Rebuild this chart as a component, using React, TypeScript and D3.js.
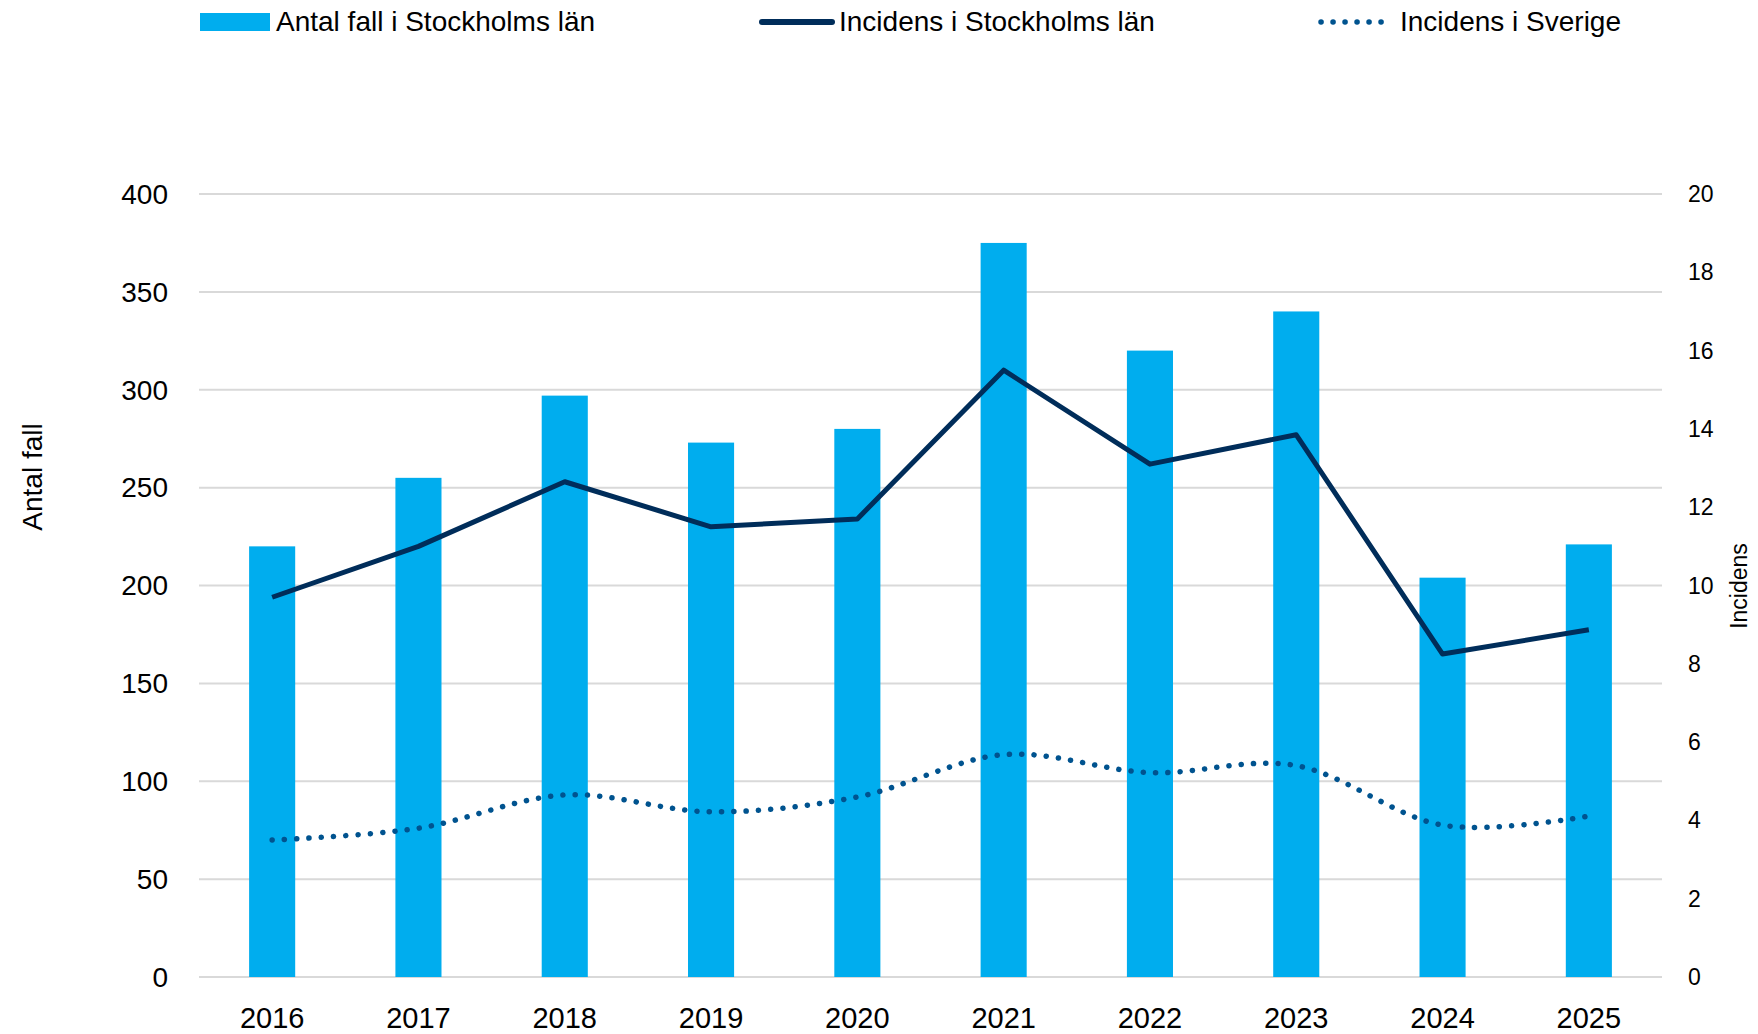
import React from 'react';
import * as d3 from 'd3';

// data
const years = ['2016', '2017', '2018', '2019', '2020', '2021', '2022', '2023', '2024', '2025'];
const antalFall = [220, 255, 297, 273, 280, 375, 320, 340, 204, 221];
const incidensSthlm = [9.7, 11.0, 12.65, 11.5, 11.7, 15.5, 13.1, 13.85, 8.25, 8.87];
const incidensSverige = [3.5, 3.8, 4.65, 4.22, 4.6, 5.68, 5.22, 5.4, 3.88, 4.11];
const leftTicks = [0, 50, 100, 150, 200, 250, 300, 350, 400];
const rightTicks = [0, 2, 4, 6, 8, 10, 12, 14, 16, 18, 20];

const W = 1758;
const H = 1034;
const plot = { left: 199, right: 1662, top: 194, bottom: 977 };
const font = 'Liberation Sans, Arial, sans-serif';

const barColor = '#00ADEE';
const lineColor = '#002D5A';
const dotColor = '#00538F';
const gridColor = '#D9D9D9';

export default function App() {
  const x = d3.scaleBand<string>()
    .domain(years)
    .range([plot.left, plot.right])
    .paddingInner(0.685)
    .paddingOuter(0.3425);
  const yLeft = d3.scaleLinear().domain([0, 400]).range([plot.bottom, plot.top]);
  const yRight = d3.scaleLinear().domain([0, 20]).range([plot.bottom, plot.top]);
  const cx = (i: number) => (x(years[i]) as number) + x.bandwidth() / 2;

  const straight = d3.line<number>()
    .x((d, i) => cx(i))
    .y(d => yRight(d));
  // Excel style smoothed line
  const smooth = d3.line<number>()
    .x((d, i) => cx(i))
    .y(d => yRight(d))
    .curve(d3.curveCardinal.tension(0));

  return (
    <div style={{ position: 'absolute', left: 0, top: 0 }}>
      <svg width={W} height={H} style={{ display: 'block' }} fontFamily={font}>
        <rect width={W} height={H} fill="#fff" />

        {/* legend */}
        <g fontSize={28} fill="#000">
          <rect x={200} y={13} width={70} height={18} fill={barColor} />
          <text x={276} y={31}>Antal fall i Stockholms län</text>
          <line x1={762} x2={832} y1={22} y2={22} stroke={lineColor} strokeWidth={6} strokeLinecap="round" />
          <text x={839} y={31}>Incidens i Stockholms län</text>
          <line x1={1321} x2={1388} y1={22} y2={22} stroke={dotColor} strokeWidth={5.5}
            strokeLinecap="round" strokeDasharray="0.1 11.9" />
          <text x={1400} y={31}>Incidens i Sverige</text>
        </g>

        {/* grid */}
        {leftTicks.map(t => (
          <line key={t} x1={plot.left} x2={plot.right} y1={yLeft(t)} y2={yLeft(t)}
            stroke={gridColor} strokeWidth={2} />
        ))}

        {/* bars */}
        {antalFall.map((v, i) => (
          <rect key={years[i]} x={x(years[i])} y={yLeft(v)} width={x.bandwidth()}
            height={yLeft(0) - yLeft(v)} fill={barColor} />
        ))}

        {/* lines */}
        <path d={straight(incidensSthlm) || ''} fill="none" stroke={lineColor} strokeWidth={5}
          strokeLinejoin="round" />
        <path d={smooth(incidensSverige) || ''} fill="none" stroke={dotColor} strokeWidth={5.5}
          strokeLinecap="round" strokeDasharray="0.1 12.2" />

        {/* left axis */}
        <g fontSize={28} textAnchor="end" fill="#000">
          {leftTicks.map(t => (
            <text key={t} x={168} y={yLeft(t)} dy="0.35em">{t}</text>
          ))}
        </g>
        <text transform="translate(42,477) rotate(-90)" textAnchor="middle" fontSize={28}>Antal fall</text>

        {/* right axis */}
        <g fontSize={23} textAnchor="start" fill="#000">
          {rightTicks.map(t => (
            <text key={t} x={1688} y={yRight(t)} dy="0.35em">{t}</text>
          ))}
        </g>
        <text transform="translate(1747,586) rotate(-90)" textAnchor="middle" fontSize={23}>Incidens</text>

        {/* x axis */}
        <g fontSize={29} textAnchor="middle" fill="#000">
          {years.map((yr, i) => (
            <text key={yr} x={cx(i)} y={1028}>{yr}</text>
          ))}
        </g>
      </svg>
    </div>
  );
}
